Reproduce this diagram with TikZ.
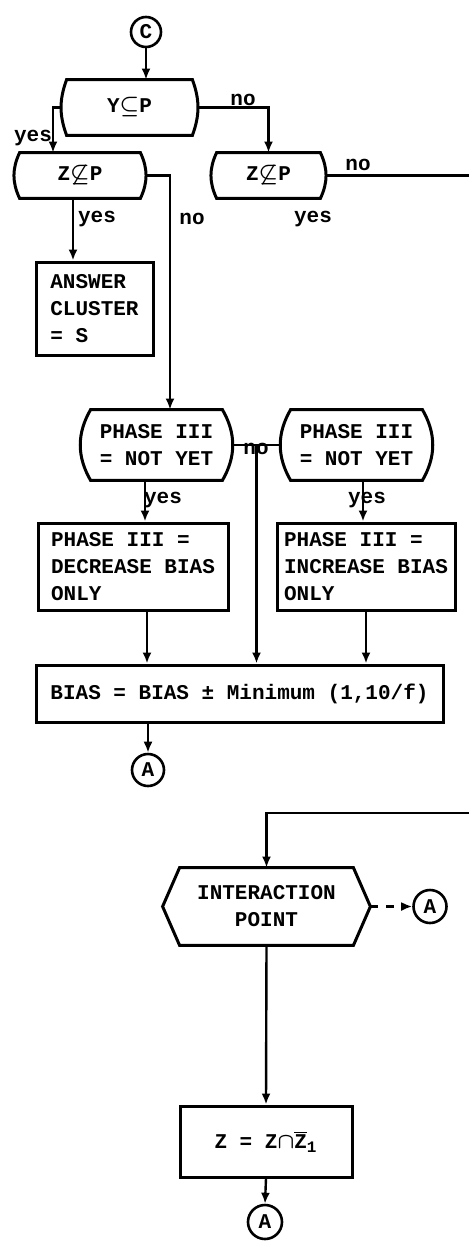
\documentclass[tikz,border=0pt]{standalone}
\usepackage{fontspec}
\setmainfont{Liberation Mono}
\usetikzlibrary{calc, arrows.meta}

\tikzset{
    sz/.style 2 args = {minimum width = #1*0.5pt, minimum height = #2*0.5pt},
    procbox/.style = {draw, line width = 1.5pt, align = left, inner sep = 0pt},
    testbox/.style = {align = center, inner sep = 0pt},
    onpage/.style = {draw, circle, line width = 1.3pt, inner sep = 0pt, minimum size = #1*0.5pt},
    arr/.style = {line width = 1.2pt, -{Latex[length = 5.5pt, width = 4.5pt]}},
    lbl/.style = {inner sep = 0pt},
}

\begin{document}
\begin{tikzpicture}[x = 0.5pt, y = -0.5pt, font = \bfseries\boldmath\fontsize{10.5}{13.5}\selectfont]
    \useasboundingbox (0,0) rectangle (469,1242);

    %upper part
    \node[onpage = 30] (c) at (146,32) {C};
    \node[testbox, sz = {135}{55}] (ycp) at (129.5,107.5) {Y$\subseteq$P};
    \node[testbox, sz = {130}{45}] (zl) at (80,175.5) {Z$\not\subseteq$P};
    \node[testbox, sz = {113}{45}] (zr) at (268.5,175.5) {Z$\not\subseteq$P};
    \node[procbox, sz = {117}{93}] (ans) at (94.5,308.5) {ANSWER\\CLUSTER\\= S};

    %phase III
    \node[testbox, sz = {153}{70}] (phl) at (156.5,445) {PHASE III\\= NOT YET};
    \node[testbox, sz = {153}{70}] (phr) at (356.5,445) {PHASE III\\= NOT YET};
    \node[procbox, sz = {190}{87}] (decr) at (133,566.5) {PHASE III =\\DECREASE BIAS\\ONLY};
    \node[procbox, sz = {178}{87}] (incr) at (366,566.5) {PHASE III =\\INCREASE BIAS\\ONLY};
    \node[procbox, sz = {407}{57}] (bias) at (239.5,693.5) {BIAS = BIAS ± Minimum (1,10/f)};
    \node[onpage = 32] (a1) at (148,770) {A};

    %interaction point
    \node[testbox, sz = {207}{77}] (ip) at (266.5,906.5) {INTERACTION\\POINT};
    \node[onpage = 33] (a2) at (430,906.5) {A};
    \node[procbox, align = center, sz = {172}{71}] (zz) at (266,1141.5) {Z = Z$\cap\overline{\hbox{Z}}_{\hbox{\fontsize{8}{8}\selectfont 1}}$};
    \node[onpage = 34] (a3) at (265,1222) {A};

    %test outlines
    \foreach \n/\b/\a in {ycp/5/20, zl/5/25, zr/5/25, phl/11/30, phr/11/30} {
        \draw[line width = 1.5pt] ($(\n.north west)+(\b,0)$) -- ($(\n.north east)+(-\b,0)$) to[bend left = \a] ($(\n.south east)+(-\b,0)$) -- ($(\n.south west)+(\b,0)$) to[bend left = \a] cycle;
    }
    \draw[line width = 1.5pt] ($(ip.north west)+(17,0)$) -- ($(ip.north east)+(-17,0)$) -- (ip.east) -- ($(ip.south east)+(-17,0)$) -- ($(ip.south west)+(17,0)$) -- (ip.west) -- cycle;

    %connectors
    \coordinate (zlout) at ($(zl.south)+(-7,0)$);
    \coordinate (phlout) at ($(phl.south)+(-11.5,0)$);
    \coordinate (phrout) at ($(phr.south)+(6.5,0)$);
    \coordinate (decrout) at ($(decr.south)+(14,0)$);
    \coordinate (edgeA) at (469,175.5);
    \coordinate (edgeB) at (469,813);

    \draw[arr] (c) -- (c |- ycp.north);
    \draw[arr] (ycp.west) -| ($(zl.north)+(-27,0)$);
    \draw[arr] (ycp.east) -| (zr.north);
    \draw[arr] (zlout) -- (zlout |- ans.north);
    \draw[arr] (zl.east) -| ($(phl.north)+(13.5,0)$);
    \draw[line width = 1.2pt] (zr.east) -- (edgeA);
    \draw[line width = 1.2pt] (phl.east) -- (phr.west) coordinate[pos = 0.5] (nomid);
    \draw[arr] (nomid) -- (nomid |- bias.north);
    \draw[arr] (phlout) -- (phlout |- decr.north);
    \draw[arr] (phrout) -- (phrout |- incr.north);
    \draw[arr] (decrout) -- (decrout |- bias.north);
    \draw[arr] (incr.south) -- (incr.south |- bias.north);
    \draw[arr] (a1 |- bias.south) -- (a1.north);
    \draw[arr] (edgeB) -| (ip.north);
    \draw[arr, dash pattern = on 4pt off 4pt] (ip.east) -- (a2.west);
    \draw[arr] (ip.south) -- (zz.north);
    \draw[arr] (zz.south) -- (a3.north);

    %labels
    \node[lbl] (ycpno) at (243,100) {no};
    \node[lbl] (ycpyes) at (33,138) {yes};
    \node[lbl] (zrno) at (358,165) {no};
    \node[lbl] (zlyes) at (97,219) {yes};
    \node[lbl] (zlno) at (192,219) {no};
    \node[lbl] (zryes) at (313,219) {yes};
    \node[lbl] (phno) at (256,449) {no};
    \node[lbl] (phlyes) at (163,500) {yes};
    \node[lbl] (phryes) at (367,500) {yes};
\end{tikzpicture}
\end{document}
